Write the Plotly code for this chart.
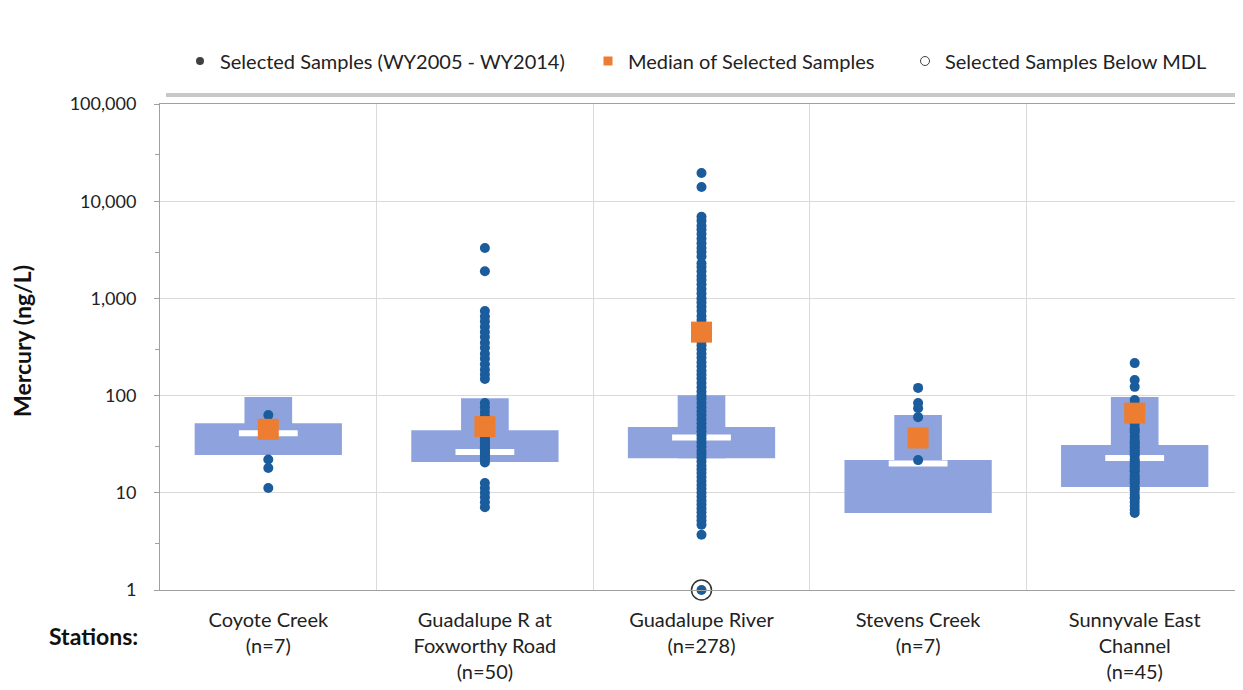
import plotly.graph_objects as go

# ---------------- data ----------------
stations = ["Coyote Creek<br>(n=7)",
            "Guadalupe R at<br>Foxworthy Road<br>(n=50)",
            "Guadalupe River<br>(n=278)",
            "Stevens Creek<br>(n=7)",
            "Sunnyvale East<br>Channel<br>(n=45)"]

coyote = [63, 47, 44, 41, 22, 18, 11.2]
foxworthy = [3300, 1900, 740, 650, 580, 510, 450, 400, 350, 310, 270, 240, 210, 185,
             165, 148, 84, 76, 68, 61, 55, 50, 45, 41, 37, 34, 31, 28, 26, 24, 22, 20.5,
             12.6, 11.2, 10, 9, 8, 7.1, 30, 27, 25, 23, 40, 35, 48, 52, 60, 42, 33, 29]
guadalupe = [19500, 14000, 6900, 6300, 5600, 5100, 4600, 4100, 3700, 3300, 3000, 2700,
             2300, 2100, 1900, 1700, 1550, 1400, 1250, 1120, 1000, 910, 820, 740, 660,
             600, 540, 490, 440, 400, 360, 330, 300, 270, 245, 220, 200, 180, 165, 150,
             135, 122, 110, 100, 92, 84, 76, 69, 63, 57, 52, 47, 43, 39, 36, 33, 30, 27,
             25, 23, 21, 19, 17.5, 16, 14.5, 13.2, 12, 11, 10, 9.1, 8.3, 7.6, 6.9, 6.3,
             5.7, 5.2, 4.7, 3.7, 1.0]
stevens = [120, 84, 74, 60, 40, 33, 21.7]
sunnyvale = [216, 145, 123, 90, 82, 75, 68, 62, 56, 51, 46, 42, 38, 35, 32, 29, 26.5, 24,
             22, 20, 18.3, 16.7, 15.2, 13.8, 12.6, 11.5, 10.5, 9.6, 8.7, 8, 7.3, 6.7, 6.2,
             30, 25, 21, 19, 17, 14.5, 13, 11, 9, 33, 44, 27]
samples = [coyote, foxworthy, guadalupe, stevens, sunnyvale]

medians = [45, 48, 450, 36.6, 66]
wide_low = [24.5, 20.7, 22.7, 6.2, 11.5]
wide_high = [52, 44, 47.5, 21.7, 31]
narrow_high = [97, 94, 101, 63, 97]
white_mark = [41, 26.3, 37, 20, 22.8]

below_mdl_station = [stations[2]]
below_mdl_value = [1.0]

ytick_vals = [1, 10, 100, 1000, 10000, 100000]
ytick_text = ["1", "10", "100", "1,000", "10,000", "100,000"]

# ---------------- styles ----------------
BOX = "rgb(142,163,222)"
DOT = "#1B5C9C"
ORANGE = "#ED7D31"
FONT = "Lato, 'Open Sans', sans-serif"

fig = go.Figure()

# wide boxes
fig.add_trace(go.Bar(x=stations, y=[h - l for h, l in zip(wide_high, wide_low)], base=wide_low,
                     width=0.68, marker=dict(color=BOX, line=dict(width=0)),
                     showlegend=False, hoverinfo="skip"))
# narrow boxes
fig.add_trace(go.Bar(x=stations, y=[h - l for h, l in zip(narrow_high, wide_low)], base=wide_low,
                     width=0.22, marker=dict(color=BOX, line=dict(width=0)),
                     showlegend=False, hoverinfo="skip"))
# white marks
fig.add_trace(go.Scatter(x=stations, y=white_mark, mode="markers",
                         marker=dict(symbol="line-ew", size=42, line=dict(width=6, color="white")),
                         showlegend=False, hoverinfo="skip"))
# sample dots
for st, vals in zip(stations, samples):
    fig.add_trace(go.Scatter(x=[st] * len(vals), y=vals, mode="markers",
                             marker=dict(color=DOT, size=10), cliponaxis=False,
                             showlegend=False))
# medians
fig.add_trace(go.Scatter(x=stations, y=medians, mode="markers",
                         marker=dict(symbol="square", color=ORANGE, size=21),
                         showlegend=False))
# below MDL ring
fig.add_trace(go.Scatter(x=below_mdl_station, y=below_mdl_value, mode="markers",
                         marker=dict(symbol="circle-open", color="#333333", size=20,
                                     line=dict(width=1.5)),
                         cliponaxis=False, showlegend=False))

# legend-only entries (three separately placed legends)
fig.add_trace(go.Scatter(x=[None], y=[None], mode="markers", name="Selected Samples (WY2005 - WY2014)",
                         marker=dict(color="#404040", size=8), legend="legend"))
fig.add_trace(go.Scatter(x=[None], y=[None], mode="markers", name="Median of Selected Samples",
                         marker=dict(color=ORANGE, size=9, symbol="square"), legend="legend2"))
fig.add_trace(go.Scatter(x=[None], y=[None], mode="markers", name="Selected Samples Below MDL",
                         marker=dict(color="#404040", size=9, symbol="circle-open",
                                     line=dict(width=1)), legend="legend3"))

# page body has an 8px margin: compensate so the plot sits where the reference has it
W, H = 1235, 682
L, R, T, B = 152, 0, 96, 100
pw, ph = W - L - R, H - T - B
OFF = 8


def px_x(p):  # page pixel -> paper x
    return (p - OFF - L) / pw


def px_y(p):  # page pixel -> paper y
    return (H - B - (p - OFF)) / ph


shapes = [
    # legend shadow + box
    dict(type="rect", xref="paper", yref="paper", x0=px_x(166), x1=px_x(1240),
         y0=px_y(97), y1=px_y(42), fillcolor="#C8C8C8", line=dict(width=0), layer="below"),
    dict(type="rect", xref="paper", yref="paper", x0=px_x(163), x1=px_x(1237),
         y0=px_y(93), y1=px_y(37), fillcolor="white", line=dict(width=0), layer="below"),
]

annotations = [
    dict(text="<b>Mercury (ng/L)</b>", xref="paper", yref="paper", x=px_x(22), y=px_y(341),
         xanchor="center", yanchor="middle",
         textangle=-90, showarrow=False, font=dict(family=FONT, size=23, color="#111111")),
    dict(text="<b>Stations:</b>", xref="paper", yref="paper", x=px_x(93), y=px_y(636),
         xanchor="center", yanchor="middle",
         showarrow=False, font=dict(family=FONT, size=23, color="#111111")),
]

leg_common = dict(orientation="h", xanchor="left", yanchor="middle", y=px_y(61),
                  bgcolor="rgba(0,0,0,0)", font=dict(family=FONT, size=20, color="#222222"),
                  itemwidth=30)

fig.update_layout(
    width=W, height=H,
    margin=dict(l=L, r=R, t=T, b=B),
    paper_bgcolor="white", plot_bgcolor="white",
    barmode="overlay",
    font=dict(family=FONT, size=17, color="#222222"),
    shapes=shapes, annotations=annotations,
    legend=dict(x=px_x(180), **leg_common),
    legend2=dict(x=px_x(588), **leg_common),
    legend3=dict(x=px_x(905), **leg_common),
    xaxis=dict(type="category", tickson="boundaries", showgrid=True, gridcolor="#DADADA",
               showline=True, linecolor="#A0A0A0", mirror=True, ticks="", ticklabelstandoff=12,
               tickfont=dict(family=FONT, size=20, color="#222222"), range=[-0.5, 4.5]),
    yaxis=dict(type="log", range=[0, 5], tickvals=ytick_vals, ticktext=ytick_text,
               showgrid=True, gridcolor="#DADADA", showline=True, linecolor="#A0A0A0",
               ticks="outside", ticklen=5, tickcolor="#A0A0A0", ticklabelstandoff=14,
               tickfont=dict(family=FONT, size=18, color="#222222"), zeroline=False,
               minor=dict(tickvals=[3, 30, 300, 3000, 30000], ticks="outside", ticklen=4,
                          tickcolor="#A0A0A0", showgrid=False)),
)

fig.write_html("out.html")
